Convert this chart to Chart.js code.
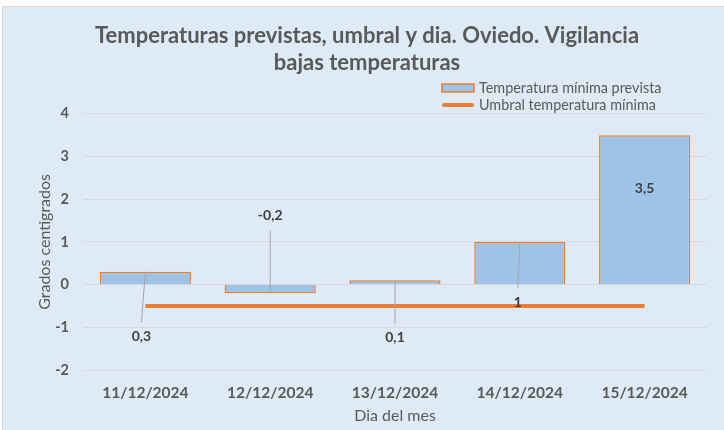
<!DOCTYPE html>
<html>
<head>
<meta charset="utf-8">
<script src="https://cdn.jsdelivr.net/npm/chart.js@4"></script>
<style>
  html, body { margin: 0; padding: 0; background: #ffffff; }
  #wrap {
    position: absolute; left: 2px; top: 6px; width: 722px; height: 424px;
    background: #deebf7; border-left: 1px solid #d9d9d9; border-top: 1px solid #d9d9d9;
    box-sizing: border-box;
  }
</style>
</head>
<body>
<div id="wrap"><canvas id="c" width="721" height="423"></canvas></div>
<script>
// data
const dias = ["11/12/2024", "12/12/2024", "13/12/2024", "14/12/2024", "15/12/2024"];
const tempMinima = [0.3, -0.2, 0.1, 1, 3.5];
const umbral = [-0.5, -0.5, -0.5, -0.5, -0.5];
const yTicks = [-2, -1, 0, 1, 2, 3, 4];

// where Excel left each value label (in degrees) and whether it has a leader line
const labelAt = [-1.22, 1.62, -1.24, -0.42, 2.25];
const labelDx = [-4, 0, 0, -2, 0];
const hasLeader = [true, true, true, true, false];

const GREY = "#595959";
const FONT = "Lato, 'Liberation Sans', sans-serif";

const fmt = v => String(v).replace(".", ",");

// value labels with leader lines
const labelPlugin = {
  id: "labels",
  afterDatasetsDraw(chart) {
    const { ctx, scales } = chart;
    const meta = chart.getDatasetMeta(0);
    ctx.save();
    ctx.font = "bold 14px " + FONT;
    ctx.textAlign = "center";
    ctx.textBaseline = "middle";
    meta.data.forEach((bar, i) => {
      const x = bar.x + labelDx[i];
      const ly = scales.y.getPixelForValue(labelAt[i]);
      const vy = scales.y.getPixelForValue(tempMinima[i]);
      if (hasLeader[i]) {
        const endY = ly < vy ? ly + 15 : ly - 14;
        ctx.strokeStyle = "#a6a6a6";
        ctx.lineWidth = 1;
        ctx.beginPath();
        ctx.moveTo(bar.x, vy);
        ctx.lineTo(x, endY);
        ctx.stroke();
      }
      ctx.fillStyle = "#404040";
      ctx.fillText(fmt(tempMinima[i]), x, ly);
    });
    ctx.restore();
  },
  afterDraw(chart) {
    // legend, stacked in the top right corner like the original
    const { ctx } = chart;
    const ds = chart.data.datasets;
    ctx.save();
    ctx.font = "14.4px " + FONT;
    ctx.textBaseline = "middle";
    ctx.fillStyle = ds[0].backgroundColor;
    ctx.fillRect(439, 77, 32, 8);
    ctx.strokeStyle = ds[0].borderColor;
    ctx.lineWidth = 1.5;
    ctx.strokeRect(439, 77, 32, 8);
    ctx.fillStyle = GREY;
    ctx.fillText(ds[0].label, 476, 81);
    ctx.strokeStyle = ds[1].borderColor;
    ctx.lineWidth = 4;
    ctx.lineCap = "round";
    ctx.beginPath();
    ctx.moveTo(441, 98);
    ctx.lineTo(469, 98);
    ctx.stroke();
    ctx.fillText(ds[1].label, 476, 98);
    ctx.restore();
  }
};

new Chart(document.getElementById("c"), {
  data: {
    labels: dias,
    datasets: [
      {
        type: "bar",
        label: "Temperatura mínima prevista",
        data: tempMinima,
        backgroundColor: "#9dc3e6",
        borderColor: "#ed7d31",
        borderWidth: 1.5,
        barPercentage: 0.73,
        categoryPercentage: 1,
        order: 2
      },
      {
        type: "line",
        label: "Umbral temperatura mínima",
        data: umbral,
        borderColor: "#ed7d31",
        backgroundColor: "#ed7d31",
        borderWidth: 4,
        pointRadius: 0,
        order: 1
      }
    ]
  },
  options: {
    responsive: false,
    animation: false,
    layout: { padding: { left: 24, right: 17, top: 0, bottom: 0 } },
    plugins: {
      legend: { display: false },
      tooltip: { enabled: false },
      title: {
        display: true,
        text: ["Temperaturas previstas, umbral y dia. Oviedo. Vigilancia", "bajas temperaturas"],
        color: GREY,
        font: { family: FONT, size: 22, weight: "bold", lineHeight: 1.2 },
        padding: { top: 16, bottom: 38 }
      }
    },
    scales: {
      x: {
        grid: { display: false },
        border: { display: false },
        ticks: { color: GREY, font: { family: FONT, size: 15.5, weight: "bold" }, padding: 6, maxRotation: 0 },
        title: { display: true, text: "Dia del mes", color: GREY, font: { family: FONT, size: 16 }, padding: { top: 0, bottom: 5 } },
        afterFit: s => { s.height = 60; }
      },
      y: {
        min: -2,
        max: 4,
        afterBuildTicks: s => { s.ticks = yTicks.map(v => ({ value: v })); },
        grid: { color: "#d9d9d9", drawTicks: false },
        border: { display: false },
        ticks: { color: GREY, font: { family: FONT, size: 14.5, weight: "bold" }, padding: 14 },
        title: { display: true, text: "Grados centigrados", color: GREY, font: { family: FONT, size: 16 }, padding: { top: 8, bottom: 0 } },
        afterFit: s => { s.width = 56; }
      }
    }
  },
  plugins: [labelPlugin]
});
</script>
</body>
</html>
